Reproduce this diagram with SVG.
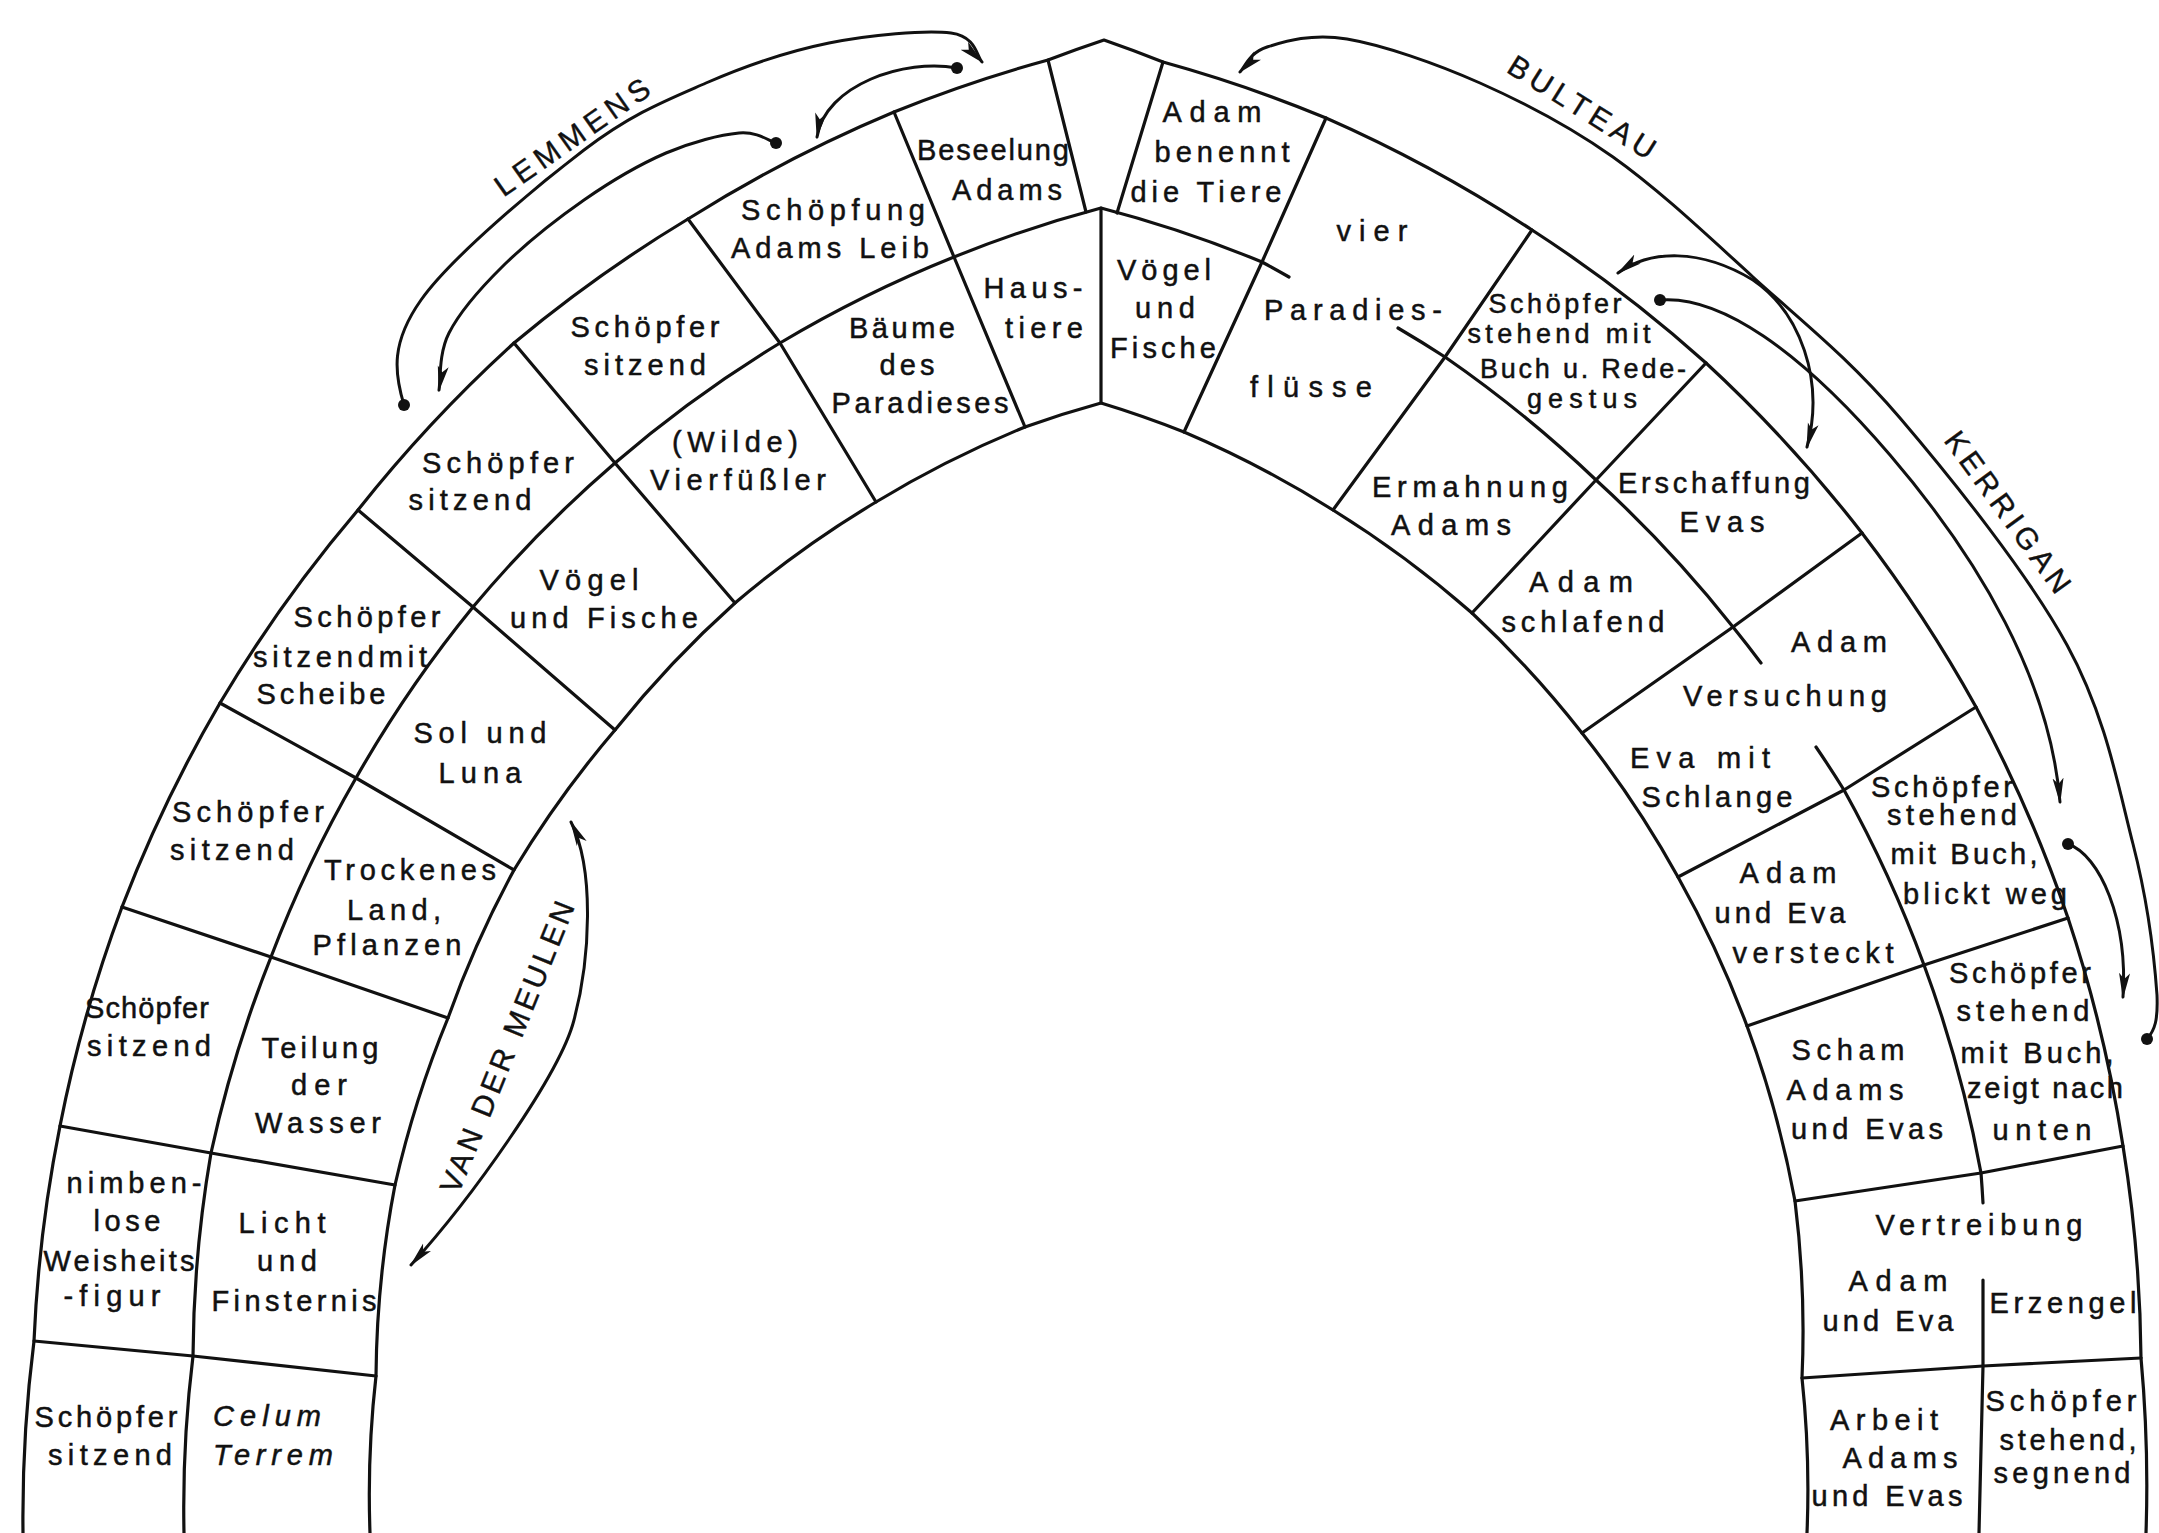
<svg xmlns="http://www.w3.org/2000/svg" width="2159" height="1533" viewBox="0 0 2159 1533">
<defs>
<style>
.ln{fill:none;stroke:#111;stroke-width:3.2;stroke-linejoin:round;stroke-linecap:round}
.cn{fill:none;stroke:#111;stroke-width:3;stroke-linecap:round}
.dot{fill:#111}
.t{font-family:"Liberation Sans",Arial,Helvetica,sans-serif;font-size:29px;fill:#111;stroke:#111;stroke-width:0.5;text-anchor:middle}
.s{font-size:27px}
.it{font-style:italic}
.lb{font-family:"Liberation Sans",Arial,Helvetica,sans-serif;font-size:30px;fill:#111;stroke:#111;stroke-width:0.4;text-anchor:middle;dominant-baseline:central}
</style>
<marker id="ah" viewBox="0 0 26 12" refX="24" refY="6" markerWidth="26" markerHeight="12" markerUnits="userSpaceOnUse" orient="auto-start-reverse">
<path d="M0,0.5 L26,6 L0,11.5 L6,6 Z" fill="#111"/>
</marker>
</defs>
<rect width="2159" height="1533" fill="#fff"/>

<g id="arch">
<path class="ln" d="M23,1533 A1395,1395 0 0 1 34,1341 A1395,1395 0 0 1 60,1126 A1395,1395 0 0 1 122,907 A1395,1395 0 0 1 220,703 A1395,1395 0 0 1 358,510 A1395,1395 0 0 1 514,343 A1395,1395 0 0 1 688,219 A1395,1395 0 0 1 894,112 A1395,1395 0 0 1 1048,60 A1395,1395 0 0 1 1104,40 A1395,1395 0 0 1 1163,62 A1395,1395 0 0 1 1326,118 A1395,1395 0 0 1 1532,230 A1395,1395 0 0 1 1706,363 A1395,1395 0 0 1 1862,533 A1395,1395 0 0 1 1976,707 A1395,1395 0 0 1 2068,918 A1395,1395 0 0 1 2123,1146 A1395,1395 0 0 1 2141,1358 A1395,1395 0 0 1 2146,1533"/>
<path class="ln" d="M184,1533 A1238,1238 0 0 1 193,1356 A1238,1238 0 0 1 211,1153 A1238,1238 0 0 1 271,957 A1238,1238 0 0 1 356,778 A1238,1238 0 0 1 473,607 A1238,1238 0 0 1 615,463 A1238,1238 0 0 1 780,343 A1238,1238 0 0 1 954,257 A1238,1238 0 0 1 1101,208 A1238,1238 0 0 1 1262,262 A1238,1238 0 0 1 1289,277"/>
<path class="ln" d="M1398,328 A1238,1238 0 0 1 1445,357 A1238,1238 0 0 1 1596,480 A1238,1238 0 0 1 1733,627 A1238,1238 0 0 1 1761,663"/>
<path class="ln" d="M1816,747 A1238,1238 0 0 1 1844,790 A1238,1238 0 0 1 1924,965 A1238,1238 0 0 1 1981,1173 A1238,1238 0 0 1 1983,1203"/>
<path class="ln" d="M1983,1280 L1983,1366 L1979,1533"/>
<path class="ln" d="M370,1533 A1052,1052 0 0 1 376,1376 A1052,1052 0 0 1 395,1185 A1052,1052 0 0 1 448,1018 A1052,1052 0 0 1 514,870 A1052,1052 0 0 1 615,730 A1052,1052 0 0 1 735,603 A1052,1052 0 0 1 876,502 A1052,1052 0 0 1 1025,427 A1052,1052 0 0 1 1101,403 A1052,1052 0 0 1 1184,432 A1052,1052 0 0 1 1333,510 A1052,1052 0 0 1 1472,613 A1052,1052 0 0 1 1582,733 A1052,1052 0 0 1 1678,877 A1052,1052 0 0 1 1747,1026 A1052,1052 0 0 1 1795,1201 A1052,1052 0 0 1 1802,1378 A1052,1052 0 0 1 1807,1533"/>
<polyline class="ln" points="34,1341 193,1356 376,1376"/>
<polyline class="ln" points="60,1126 211,1153 395,1185"/>
<polyline class="ln" points="122,907 271,957 448,1018"/>
<polyline class="ln" points="220,703 356,778 514,870"/>
<polyline class="ln" points="358,510 473,607 615,730"/>
<polyline class="ln" points="514,343 615,463 735,603"/>
<polyline class="ln" points="688,219 780,343 876,502"/>
<polyline class="ln" points="894,112 954,257 1025,427"/>
<polyline class="ln" points="1048,60 1086,212"/>
<polyline class="ln" points="1101,208 1101,403"/>
<polyline class="ln" points="1163,62 1117,213"/>
<polyline class="ln" points="1326,118 1262,262 1184,432"/>
<polyline class="ln" points="1532,230 1445,357 1333,510"/>
<polyline class="ln" points="1706,363 1596,480 1472,613"/>
<polyline class="ln" points="1862,533 1733,627 1582,733"/>
<polyline class="ln" points="1976,707 1844,790 1678,877"/>
<polyline class="ln" points="2068,918 1924,965 1747,1026"/>
<polyline class="ln" points="2123,1146 1981,1173 1795,1201"/>
<polyline class="ln" points="2141,1358 1983,1366 1802,1378"/>
</g>

<g id="connectors">
<path class="cn" marker-end="url(#ah)" d="M404,405 C394,372 391,342.5 421,300 C451,257.5 536.5,186.2 584,150 C631.5,113.8 665.2,100.8 706,83 C746.8,65.2 788.2,51.3 829,43 C869.8,34.7 925.5,29.8 951,33 C976.5,36.2 976.8,57.2 982,62"/>
<circle class="dot" cx="404" cy="405" r="6"/>
<path class="cn" marker-end="url(#ah)" d="M776,143 C769.8,141.3 757.3,131.3 739,133 C720.7,134.7 691.8,141.8 666,153 C640.2,164.2 611.3,181 584,200 C556.7,219 524.5,244.8 502,267 C479.5,289.2 459.5,312.5 449,333 C438.5,353.5 440.7,380.5 439,390"/>
<circle class="dot" cx="776" cy="143" r="6"/>
<path class="cn" marker-end="url(#ah)" d="M957,68 C905,58 825,85 817,137"/>
<circle class="dot" cx="957" cy="68" r="6"/>
<path class="cn" marker-end="url(#ah)" d="M2147,1039 C2155,1030 2158,1020 2157,995 C2154.7,962.5 2148,902.3 2133,844 C2118,785.7 2105.8,716 2067,645 C2028.2,574 1952.3,479.3 1900,418 C1847.7,356.7 1800.8,320.5 1753,277 C1705.2,233.5 1658.5,189.3 1613,157 C1567.5,124.7 1524.3,102.7 1480,83 C1435.7,63.3 1382.5,45 1347,39 C1311.5,33 1284.8,41.5 1267,47 C1249.2,52.5 1244.5,67.8 1240,72"/>
<circle class="dot" cx="2147" cy="1039" r="6"/>
<path class="cn" marker-start="url(#ah)" marker-end="url(#ah)" d="M1618,273 C1650,250 1700,248 1753,280 C1800,312 1825,380 1807,447"/>
<path class="cn" marker-end="url(#ah)" d="M1660,300 C1720,295 1800,350 1890,455 C1980,560 2050,680 2060,802"/>
<circle class="dot" cx="1660" cy="300" r="6"/>
<path class="cn" marker-end="url(#ah)" d="M2068,844 C2100,855 2128,920 2123,997"/>
<circle class="dot" cx="2068" cy="844" r="6"/>
<path class="cn" marker-start="url(#ah)" marker-end="url(#ah)" d="M571,822 C595,870 590,960 574,1020 C560,1075 470,1200 411,1265"/>
</g>

<g id="labels">
<text class="lb" transform="translate(572,137) rotate(-35)" textLength="182" lengthAdjust="spacing">LEMMENS</text>
<text class="lb" transform="translate(1582,107) rotate(32)" textLength="168" lengthAdjust="spacing">BULTEAU</text>
<text class="lb" transform="translate(2008,512) rotate(54)" textLength="192" lengthAdjust="spacing">KERRIGAN</text>
<text class="lb" transform="translate(507,1047) rotate(-68)" textLength="312" lengthAdjust="spacing">VAN DER MEULEN</text>
</g>

<g id="l1"><text class="t" x="106" y="1427" textLength="143" lengthAdjust="spacing">Schöpfer</text><text class="t" x="110" y="1465" textLength="124" lengthAdjust="spacing">sitzend</text></g>
<g id="l2"><text class="t" x="134" y="1193" textLength="135" lengthAdjust="spacing">nimben-</text><text class="t" x="127" y="1231" textLength="67" lengthAdjust="spacing">lose</text><text class="t" x="119" y="1271" textLength="151" lengthAdjust="spacing">Weisheits</text><text class="t" x="112" y="1306" textLength="97" lengthAdjust="spacing">-figur</text></g>
<g id="l3"><text class="t" x="147" y="1018" textLength="124" lengthAdjust="spacing">Schöpfer</text><text class="t" x="149" y="1056" textLength="124" lengthAdjust="spacing">sitzend</text></g>
<g id="l4"><text class="t" x="248" y="822" textLength="152" lengthAdjust="spacing">Schöpfer</text><text class="t" x="232" y="860" textLength="124" lengthAdjust="spacing">sitzend</text></g>
<g id="l5"><text class="t" x="367" y="627" textLength="147" lengthAdjust="spacing">Schöpfer</text><text class="t" x="340" y="667" textLength="174" lengthAdjust="spacing">sitzendmit</text><text class="t" x="321" y="704" textLength="129" lengthAdjust="spacing">Scheibe</text></g>
<g id="l6"><text class="t" x="498" y="473" textLength="152" lengthAdjust="spacing">Schöpfer</text><text class="t" x="470" y="510" textLength="123" lengthAdjust="spacing">sitzend</text></g>
<g id="l7"><text class="t" x="645" y="337" textLength="149" lengthAdjust="spacing">Schöpfer</text><text class="t" x="645" y="375" textLength="122" lengthAdjust="spacing">sitzend</text></g>
<g id="l8"><text class="t" x="833" y="220" textLength="184" lengthAdjust="spacing">Schöpfung</text><text class="t" x="830" y="258" textLength="198" lengthAdjust="spacing">Adams Leib</text></g>
<g id="l9"><text class="t" x="993" y="160" textLength="152" lengthAdjust="spacing">Beseelung</text><text class="t" x="1007" y="200" textLength="110" lengthAdjust="spacing">Adams</text></g>

<g id="m1"><text class="t it" x="267" y="1426" textLength="108" lengthAdjust="spacing">Celum</text><text class="t it" x="273" y="1465" textLength="120" lengthAdjust="spacing">Terrem</text></g>
<g id="m2"><text class="t" x="282" y="1233" textLength="87" lengthAdjust="spacing">Licht</text><text class="t" x="287" y="1271" textLength="60" lengthAdjust="spacing">und</text><text class="t" x="294" y="1311" textLength="165" lengthAdjust="spacing">Finsternis</text></g>
<g id="m3"><text class="t" x="320" y="1058" textLength="117" lengthAdjust="spacing">Teilung</text><text class="t" x="319" y="1095" textLength="56" lengthAdjust="spacing">der</text><text class="t" x="318" y="1133" textLength="126" lengthAdjust="spacing">Wasser</text></g>
<g id="m4"><text class="t" x="410" y="880" textLength="172" lengthAdjust="spacing">Trockenes</text><text class="t" x="394" y="920" textLength="94" lengthAdjust="spacing">Land,</text><text class="t" x="387" y="955" textLength="149" lengthAdjust="spacing">Pflanzen</text></g>
<g id="m5"><text class="t" x="480" y="743" textLength="133" lengthAdjust="spacing">Sol und</text><text class="t" x="480" y="783" textLength="83" lengthAdjust="spacing">Luna</text></g>
<g id="m6"><text class="t" x="589" y="590" textLength="99" lengthAdjust="spacing">Vögel</text><text class="t" x="604" y="628" textLength="188" lengthAdjust="spacing">und Fische</text></g>
<g id="m7"><text class="t" x="735" y="452" textLength="126" lengthAdjust="spacing">(Wilde)</text><text class="t" x="738" y="490" textLength="176" lengthAdjust="spacing">Vierfüßler</text></g>
<g id="m8"><text class="t" x="902" y="338" textLength="106" lengthAdjust="spacing">Bäume</text><text class="t" x="907" y="375" textLength="55" lengthAdjust="spacing">des</text><text class="t" x="920" y="413" textLength="177" lengthAdjust="spacing">Paradieses</text></g>
<g id="m9"><text class="t" x="1033" y="298" textLength="99" lengthAdjust="spacing">Haus-</text><text class="t" x="1044" y="338" textLength="78" lengthAdjust="spacing">tiere</text></g>

<g id="r1"><text class="t" x="1212" y="122" textLength="99" lengthAdjust="spacing">Adam</text><text class="t" x="1222" y="162" textLength="135" lengthAdjust="spacing">benennt</text><text class="t" x="1206" y="202" textLength="151" lengthAdjust="spacing">die Tiere</text></g>
<g id="r2"><text class="t" x="1164" y="280" textLength="94" lengthAdjust="spacing">Vögel</text><text class="t" x="1165" y="318" textLength="60" lengthAdjust="spacing">und</text><text class="t" x="1163" y="358" textLength="106" lengthAdjust="spacing">Fische</text></g>
<g id="r3"><text class="t" x="1372" y="241" textLength="71" lengthAdjust="spacing">vier</text><text class="t" x="1353" y="320" textLength="178" lengthAdjust="spacing">Paradies-</text><text class="t" x="1311" y="397" textLength="122" lengthAdjust="spacing">flüsse</text></g>
<g id="r4"><text class="t s" x="1555" y="313" textLength="133" lengthAdjust="spacing">Schöpfer</text><text class="t s" x="1559" y="343" textLength="183" lengthAdjust="spacing">stehend mit</text><text class="t s" x="1583" y="378" textLength="206" lengthAdjust="spacing">Buch u. Rede-</text><text class="t s" x="1582" y="408" textLength="110" lengthAdjust="spacing">gestus</text></g>
<g id="r5"><text class="t" x="1470" y="497" textLength="196" lengthAdjust="spacing">Ermahnung</text><text class="t" x="1451" y="535" textLength="120" lengthAdjust="spacing">Adams</text></g>
<g id="r6"><text class="t" x="1714" y="493" textLength="192" lengthAdjust="spacing">Erschaffung</text><text class="t" x="1722" y="532" textLength="85" lengthAdjust="spacing">Evas</text></g>
<g id="r7"><text class="t" x="1581" y="592" textLength="104" lengthAdjust="spacing">Adam</text><text class="t" x="1583" y="632" textLength="163" lengthAdjust="spacing">schlafend</text></g>
<g id="r8"><text class="t" x="1839" y="652" textLength="96" lengthAdjust="spacing">Adam</text><text class="t" x="1785" y="706" textLength="204" lengthAdjust="spacing">Versuchung</text><text class="t" x="1700" y="768" textLength="140" lengthAdjust="spacing">Eva mit</text><text class="t" x="1717" y="807" textLength="151" lengthAdjust="spacing">Schlange</text></g>
<g id="r9"><text class="t" x="1942" y="797" textLength="142" lengthAdjust="spacing">Schöpfer</text><text class="t" x="1952" y="825" textLength="130" lengthAdjust="spacing">stehend</text><text class="t" x="1964" y="864" textLength="147" lengthAdjust="spacing">mit Buch,</text><text class="t" x="1985" y="904" textLength="164" lengthAdjust="spacing">blickt weg</text></g>
<g id="r10"><text class="t" x="1788" y="883" textLength="97" lengthAdjust="spacing">Adam</text><text class="t" x="1780" y="923" textLength="131" lengthAdjust="spacing">und Eva</text><text class="t" x="1813" y="963" textLength="161" lengthAdjust="spacing">versteckt</text></g>
<g id="r11"><text class="t" x="2020" y="983" textLength="142" lengthAdjust="spacing">Schöpfer</text><text class="t" x="2023" y="1021" textLength="133" lengthAdjust="spacing">stehend</text><text class="t" x="2037" y="1063" textLength="153" lengthAdjust="spacing">mit Buch,</text><text class="t" x="2045" y="1098" textLength="156" lengthAdjust="spacing">zeigt nach</text><text class="t" x="2042" y="1140" textLength="99" lengthAdjust="spacing">unten</text></g>
<g id="r12"><text class="t" x="1848" y="1060" textLength="113" lengthAdjust="spacing">Scham</text><text class="t" x="1845" y="1100" textLength="117" lengthAdjust="spacing">Adams</text><text class="t" x="1867" y="1139" textLength="152" lengthAdjust="spacing">und Evas</text></g>
<g id="r13"><text class="t" x="1979" y="1235" textLength="207" lengthAdjust="spacing">Vertreibung</text><text class="t" x="1898" y="1291" textLength="99" lengthAdjust="spacing">Adam</text><text class="t" x="1888" y="1331" textLength="131" lengthAdjust="spacing">und Eva</text><text class="t" x="2063" y="1313" textLength="147" lengthAdjust="spacing">Erzengel</text></g>
<g id="r14"><text class="t" x="1884" y="1430" textLength="108" lengthAdjust="spacing">Arbeit</text><text class="t" x="1900" y="1468" textLength="115" lengthAdjust="spacing">Adams</text><text class="t" x="1887" y="1506" textLength="151" lengthAdjust="spacing">und Evas</text></g>
<g id="r15"><text class="t" x="2061" y="1411" textLength="151" lengthAdjust="spacing">Schöpfer</text><text class="t" x="2068" y="1450" textLength="137" lengthAdjust="spacing">stehend,</text><text class="t" x="2062" y="1483" textLength="137" lengthAdjust="spacing">segnend</text></g>
</svg>
